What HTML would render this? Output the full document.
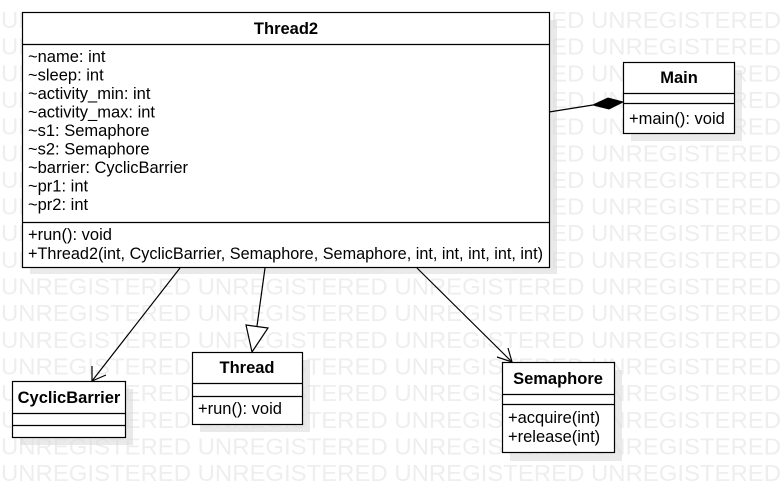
<!DOCTYPE html>
<html><head><meta charset="utf-8"><style>
html,body{margin:0;padding:0;background:#fff;}
svg{display:block;font-family:"Liberation Sans",Arial,sans-serif;}
</style></head><body>
<svg width="783" height="502" viewBox="0 0 783 502" xmlns="http://www.w3.org/2000/svg">
<g fill="#eeeeee" font-size="23">
<text x="1" y="28" textLength="780" lengthAdjust="spacingAndGlyphs">UNREGISTERED UNREGISTERED UNREGISTERED UNREGISTERED</text>
<text x="1" y="54.6" textLength="780" lengthAdjust="spacingAndGlyphs">UNREGISTERED UNREGISTERED UNREGISTERED UNREGISTERED</text>
<text x="1" y="81.3" textLength="780" lengthAdjust="spacingAndGlyphs">UNREGISTERED UNREGISTERED UNREGISTERED UNREGISTERED</text>
<text x="1" y="108" textLength="780" lengthAdjust="spacingAndGlyphs">UNREGISTERED UNREGISTERED UNREGISTERED UNREGISTERED</text>
<text x="1" y="134.6" textLength="780" lengthAdjust="spacingAndGlyphs">UNREGISTERED UNREGISTERED UNREGISTERED UNREGISTERED</text>
<text x="1" y="161.3" textLength="780" lengthAdjust="spacingAndGlyphs">UNREGISTERED UNREGISTERED UNREGISTERED UNREGISTERED</text>
<text x="1" y="188" textLength="780" lengthAdjust="spacingAndGlyphs">UNREGISTERED UNREGISTERED UNREGISTERED UNREGISTERED</text>
<text x="1" y="214.6" textLength="780" lengthAdjust="spacingAndGlyphs">UNREGISTERED UNREGISTERED UNREGISTERED UNREGISTERED</text>
<text x="1" y="241.2" textLength="780" lengthAdjust="spacingAndGlyphs">UNREGISTERED UNREGISTERED UNREGISTERED UNREGISTERED</text>
<text x="1" y="267.9" textLength="780" lengthAdjust="spacingAndGlyphs">UNREGISTERED UNREGISTERED UNREGISTERED UNREGISTERED</text>
<text x="1" y="294.5" textLength="780" lengthAdjust="spacingAndGlyphs">UNREGISTERED UNREGISTERED UNREGISTERED UNREGISTERED</text>
<text x="1" y="321.2" textLength="780" lengthAdjust="spacingAndGlyphs">UNREGISTERED UNREGISTERED UNREGISTERED UNREGISTERED</text>
<text x="1" y="347.8" textLength="780" lengthAdjust="spacingAndGlyphs">UNREGISTERED UNREGISTERED UNREGISTERED UNREGISTERED</text>
<text x="1" y="374.5" textLength="780" lengthAdjust="spacingAndGlyphs">UNREGISTERED UNREGISTERED UNREGISTERED UNREGISTERED</text>
<text x="1" y="401.1" textLength="780" lengthAdjust="spacingAndGlyphs">UNREGISTERED UNREGISTERED UNREGISTERED UNREGISTERED</text>
<text x="1" y="427.8" textLength="780" lengthAdjust="spacingAndGlyphs">UNREGISTERED UNREGISTERED UNREGISTERED UNREGISTERED</text>
<text x="1" y="454.4" textLength="780" lengthAdjust="spacingAndGlyphs">UNREGISTERED UNREGISTERED UNREGISTERED UNREGISTERED</text>
<text x="1" y="481" textLength="780" lengthAdjust="spacingAndGlyphs">UNREGISTERED UNREGISTERED UNREGISTERED UNREGISTERED</text>
</g>
<g fill="#dcdcdc" opacity="0.6">
<rect x="30" y="20" width="527" height="254"/>
<rect x="631" y="70" width="111" height="71"/>
<rect x="20" y="389" width="113" height="56"/>
<rect x="200" y="360" width="110" height="72"/>
<rect x="510" y="370" width="112" height="91"/>
</g>
<g stroke="#000" stroke-width="1.2" fill="#fff">
<rect x="22.5" y="12.5" width="527" height="255"/>
<line x1="22.5" y1="44.5" x2="549.5" y2="44.5"/>
<line x1="22.5" y1="222.5" x2="549.5" y2="222.5"/>
<rect x="623.5" y="62.5" width="111" height="71"/>
<line x1="623.5" y1="93.5" x2="734.5" y2="93.5"/>
<line x1="623.5" y1="103.5" x2="734.5" y2="103.5"/>
<rect x="12.5" y="381.5" width="113" height="56"/>
<line x1="12.5" y1="413.5" x2="125.5" y2="413.5"/>
<line x1="12.5" y1="425.5" x2="125.5" y2="425.5"/>
<rect x="192.5" y="352.5" width="110" height="72"/>
<line x1="192.5" y1="383.5" x2="302.5" y2="383.5"/>
<line x1="192.5" y1="396.5" x2="302.5" y2="396.5"/>
<rect x="502.5" y="362.5" width="112" height="90"/>
<line x1="502.5" y1="394.5" x2="614.5" y2="394.5"/>
<line x1="502.5" y1="404.5" x2="614.5" y2="404.5"/>
</g>
<g stroke="#000" stroke-width="1.2" fill="none">
<line x1="549" y1="112" x2="593" y2="105"/>
<line x1="180" y1="268" x2="92" y2="381"/>
<polyline points="92,366 92,381 106,375"/>
<line x1="265" y1="268" x2="257" y2="326"/>
<line x1="417" y1="268" x2="512" y2="362"/>
<polyline points="497,357 512,362 508,348"/>
</g>
<polygon points="593,105 608,98 623,102 609,109" fill="#000" stroke="#000"/>
<polygon points="246,325 268,328 252,352" fill="#fff" stroke="#000" stroke-width="1.2"/>
<g font-size="16.5" fill="#000">
<text x="286" y="34" text-anchor="middle" font-weight="bold">Thread2</text>
<text x="28" y="62">~name: int</text>
<text x="28" y="80.5">~sleep: int</text>
<text x="28" y="99">~activity_min: int</text>
<text x="28" y="117.5">~activity_max: int</text>
<text x="28" y="136">~s1: Semaphore</text>
<text x="28" y="154.5">~s2: Semaphore</text>
<text x="28" y="173">~barrier: CyclicBarrier</text>
<text x="28" y="191.5">~pr1: int</text>
<text x="28" y="210">~pr2: int</text>
<text x="28" y="240">+run(): void</text>
<text x="28" y="259" textLength="515" lengthAdjust="spacingAndGlyphs">+Thread2(int, CyclicBarrier, Semaphore, Semaphore, int, int, int, int, int)</text>
<text x="679" y="83" text-anchor="middle" font-weight="bold">Main</text>
<text x="629" y="124">+main(): void</text>
<text x="69" y="403" text-anchor="middle" font-weight="bold">CyclicBarrier</text>
<text x="247" y="373" text-anchor="middle" font-weight="bold">Thread</text>
<text x="198" y="414">+run(): void</text>
<text x="558" y="384" text-anchor="middle" font-weight="bold">Semaphore</text>
<text x="508" y="423">+acquire(int)</text>
<text x="508" y="442">+release(int)</text>
</g>
</svg>
</body></html>
